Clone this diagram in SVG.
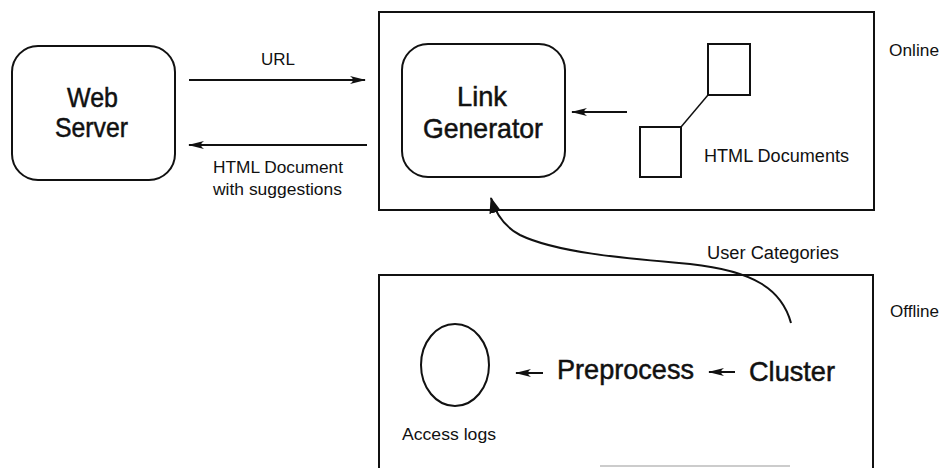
<svg xmlns="http://www.w3.org/2000/svg" width="942" height="468" viewBox="0 0 942 468">
<style>
.box{fill:none;stroke:#111;stroke-width:2}
.con{fill:none;stroke:#111;stroke-width:2}
.big{font-family:"Liberation Sans",Arial,sans-serif;font-size:28px;fill:#111;stroke:#111;stroke-width:0.5}
.sm{font-family:"Liberation Sans",Arial,sans-serif;font-size:17px;fill:#111}
</style>
<defs>
<marker id="ah" viewBox="0 0 16 10" refX="15" refY="5" markerWidth="16" markerHeight="10" markerUnits="userSpaceOnUse" orient="auto">
<path d="M0,1 Q6,5 0,9 L16,5 Z" fill="#111"/>
</marker>
<marker id="ah2" viewBox="0 0 16 12" refX="15" refY="6" markerWidth="16" markerHeight="12" markerUnits="userSpaceOnUse" orient="auto">
<path d="M0,0 L16,6 L0,12 Z" fill="#111"/>
</marker>
</defs>
<g id="online-frame">
<rect class="box" x="379" y="12" width="495" height="198"/>
<text class="sm" x="889" y="56" textLength="50" lengthAdjust="spacingAndGlyphs">Online</text>
</g>
<g id="offline-frame">
<path class="box" d="M379,468 L379,275 L873,275 L873,468"/>
<line x1="600" y1="466" x2="790" y2="466" stroke="#bbb" stroke-width="1.5"/>
<text class="sm" x="890" y="317" textLength="49" lengthAdjust="spacingAndGlyphs">Offline</text>
</g>
<g id="web-server">
<rect class="box" x="12" y="46" width="163" height="134" rx="26" ry="26"/>
<text class="big" x="92.5" y="107" text-anchor="middle" textLength="51" lengthAdjust="spacingAndGlyphs">Web</text>
<text class="big" x="91.5" y="137" text-anchor="middle" textLength="73" lengthAdjust="spacingAndGlyphs">Server</text>
</g>
<g id="link-generator">
<rect class="box" x="402" y="44" width="163" height="133" rx="26" ry="26"/>
<text class="big" x="482" y="106" text-anchor="middle" textLength="50" lengthAdjust="spacingAndGlyphs">Link</text>
<text class="big" x="483" y="138" text-anchor="middle" textLength="120" lengthAdjust="spacingAndGlyphs">Generator</text>
</g>
<g id="html-documents">
<rect class="box" x="708" y="44" width="42" height="51"/>
<rect class="box" x="640" y="127" width="41" height="50"/>
<line x1="681" y1="127" x2="708" y2="95" stroke="#111" stroke-width="1.5"/>
<text class="sm" x="704" y="162" style="font-size:18px" textLength="145" lengthAdjust="spacingAndGlyphs">HTML Documents</text>
</g>
<g id="access-logs">
<ellipse class="box" cx="455" cy="365" rx="34" ry="41"/>
<text class="sm" x="402" y="440" textLength="94" lengthAdjust="spacingAndGlyphs">Access logs</text>
</g>
<g id="preprocess">
<text class="big" x="557" y="379" textLength="137" lengthAdjust="spacingAndGlyphs">Preprocess</text>
</g>
<g id="cluster">
<text class="big" x="749" y="381" textLength="86" lengthAdjust="spacingAndGlyphs">Cluster</text>
</g>
<g id="connectors">
<line class="con" x1="189" y1="80" x2="365" y2="80" marker-end="url(#ah)"/>
<text class="sm" x="261" y="65" textLength="34" lengthAdjust="spacingAndGlyphs">URL</text>
<line class="con" x1="367" y1="145" x2="189" y2="145" marker-end="url(#ah)"/>
<text class="sm" x="213" y="173" textLength="130" lengthAdjust="spacingAndGlyphs">HTML Document</text>
<text class="sm" x="213" y="195" textLength="129" lengthAdjust="spacingAndGlyphs">with suggestions</text>
<line class="con" x1="627" y1="112" x2="572" y2="112" marker-end="url(#ah)"/>
<line class="con" x1="543" y1="373" x2="516" y2="373" marker-end="url(#ah)"/>
<line class="con" x1="735" y1="372" x2="709" y2="372" marker-end="url(#ah)"/>
<path class="con" d="M791,323 C782,290 755,271 690,264 C620,258 555,252 520,235 C505,227 496,215 491,198" marker-end="url(#ah2)"/>
<text class="sm" x="707" y="259" style="font-size:18px" textLength="132" lengthAdjust="spacingAndGlyphs">User Categories</text>
</g>
</svg>
